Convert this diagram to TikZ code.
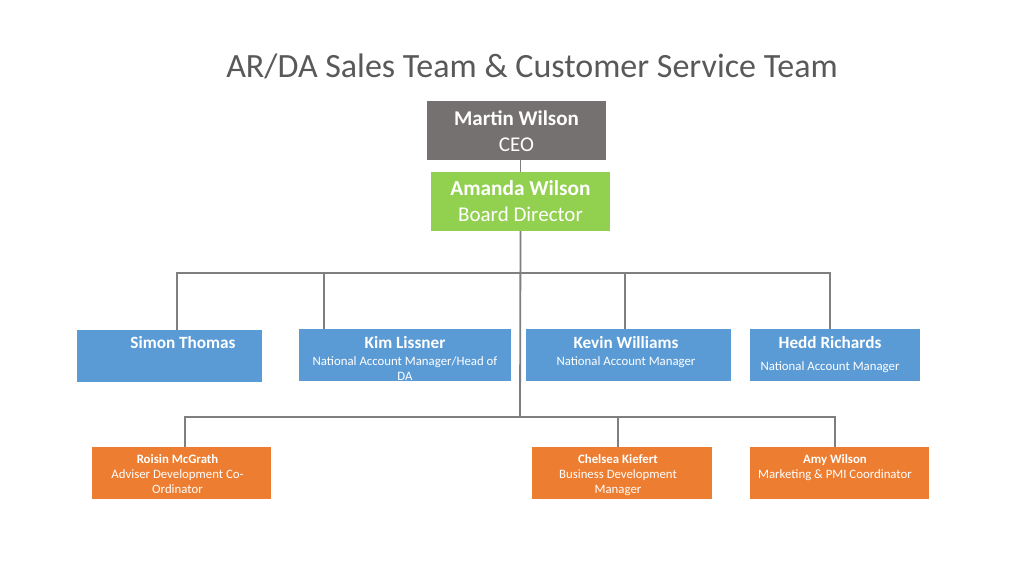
\documentclass[tikz,border=0pt]{standalone}
\usepackage{fontspec}
\setmainfont{Carlito}
\usepackage{tikz}
\usetikzlibrary{calc}
\definecolor{cus-gray}{RGB}{118,113,113}
\definecolor{cus-green}{RGB}{146,208,80}
\definecolor{cus-blue}{RGB}{91,155,213}
\definecolor{cus-orange}{RGB}{237,125,49}
\definecolor{cus-line}{RGB}{127,127,127}
\definecolor{cus-title}{RGB}{89,89,89}
% card text: [shift], width, height, first baseline, lines
\newcommand{\cardtext}[5][0pt]{\parbox[c][#3][t]{#2}{\centering\leftskip=\dimexpr(#1)*2\relax plus 1fil\rule{0pt}{#4}#5}}
\tikzset{
	card/.style={inner sep=0pt, text=white},
	link/.style={draw=cus-line, line width=1.8pt}
}

\begin{document}
\begin{tikzpicture}[x=1pt, y=-1pt]
\fill [white] (0,0) rectangle (1024,576);
\useasboundingbox (0,0) rectangle (1024,576);

\node [text=cus-title, font=\fontsize{34}{40}\selectfont] (title) at (532,66) {AR/DA Sales Team \& Customer Service Team};

% top
\node [card, fill=cus-gray] (martin) at (516.5,130.5) {\cardtext{179pt}{59pt}{24pt}{\fontsize{21}{26}\selectfont\textbf{Martin Wilson}\\CEO}};
\node [card, fill=cus-green] (amanda) at (520.5,201.5) {\cardtext{179pt}{59pt}{23.5pt}{\fontsize{21}{26}\selectfont{\fontsize{21.3}{26}\selectfont\textbf{Amanda Wilson}}\\Board Director}};

% sales team
\node [card, fill=cus-blue] (simon) at (169.5,356) {\cardtext[13.5pt]{185pt}{52pt}{18.5pt}{\fontsize{17.2}{20}\selectfont\textbf{Simon Thomas}}};
\node [card, fill=cus-blue] (kim) at (405,355) {\cardtext{212pt}{52pt}{19.5pt}{\fontsize{12.8}{15}\selectfont{\fontsize{17.2}{15}\selectfont\textbf{Kim Lissner}}\\[2pt]National Account Manager/Head of\\DA}};
\node [card, fill=cus-blue] (kevin) at (628.5,355) {\cardtext[-2.5pt]{205pt}{52pt}{19.5pt}{\fontsize{12.8}{15}\selectfont{\fontsize{17.2}{15}\selectfont\textbf{Kevin Williams}}\\[2pt]National Account Manager}};
\node [card, fill=cus-blue] (hedd) at (835,355) {\cardtext[-5pt]{170pt}{52pt}{19.5pt}{\fontsize{12.8}{15}\selectfont{\fontsize{17.2}{15}\selectfont\textbf{Hedd Richards}}\\[7pt]National Account Manager}};

% customer service
\node [card, fill=cus-orange] (roisin) at (181.5,473) {\cardtext[-4pt]{179pt}{52pt}{16pt}{\fontsize{12.8}{15}\selectfont\textbf{Roisin McGrath}\\Adviser Development Co-\\Ordinator}};
\node [card, fill=cus-orange] (chelsea) at (622,473) {\cardtext[-4pt]{180pt}{52pt}{16pt}{\fontsize{12.8}{15}\selectfont\textbf{Chelsea Kiefert}\\Business Development\\Manager}};
\node [card, fill=cus-orange] (amy) at (839.5,473) {\cardtext[-4.5pt]{179pt}{52pt}{16pt}{\fontsize{12.8}{15}\selectfont\textbf{Amy Wilson}\\Marketing \& PMI Coordinator}};

\coordinate (hub1) at (520,273);
\coordinate (hub2) at (520,417);

\draw [link] (amanda.north |- martin.south) -- (amanda.north);
\draw [link] (amanda.south) -- (hub2);
\draw [link] ([xshift=7.5pt]simon.north) |- (hub1) -| ([xshift=-5pt]hedd.north);
\draw [link] ([xshift=-81pt]kim.north) -- ([xshift=-81pt]kim.north |- hub1);
\draw [link] ([xshift=-3.5pt]kevin.north) -- ([xshift=-3.5pt]kevin.north |- hub1);
\draw [link] ([xshift=3.5pt]roisin.north) |- (hub2) -| ([xshift=-4.5pt]amy.north);
\draw [link] ([xshift=-4pt]chelsea.north) -- ([xshift=-4pt]chelsea.north |- hub2);
\end{tikzpicture}
\end{document}
